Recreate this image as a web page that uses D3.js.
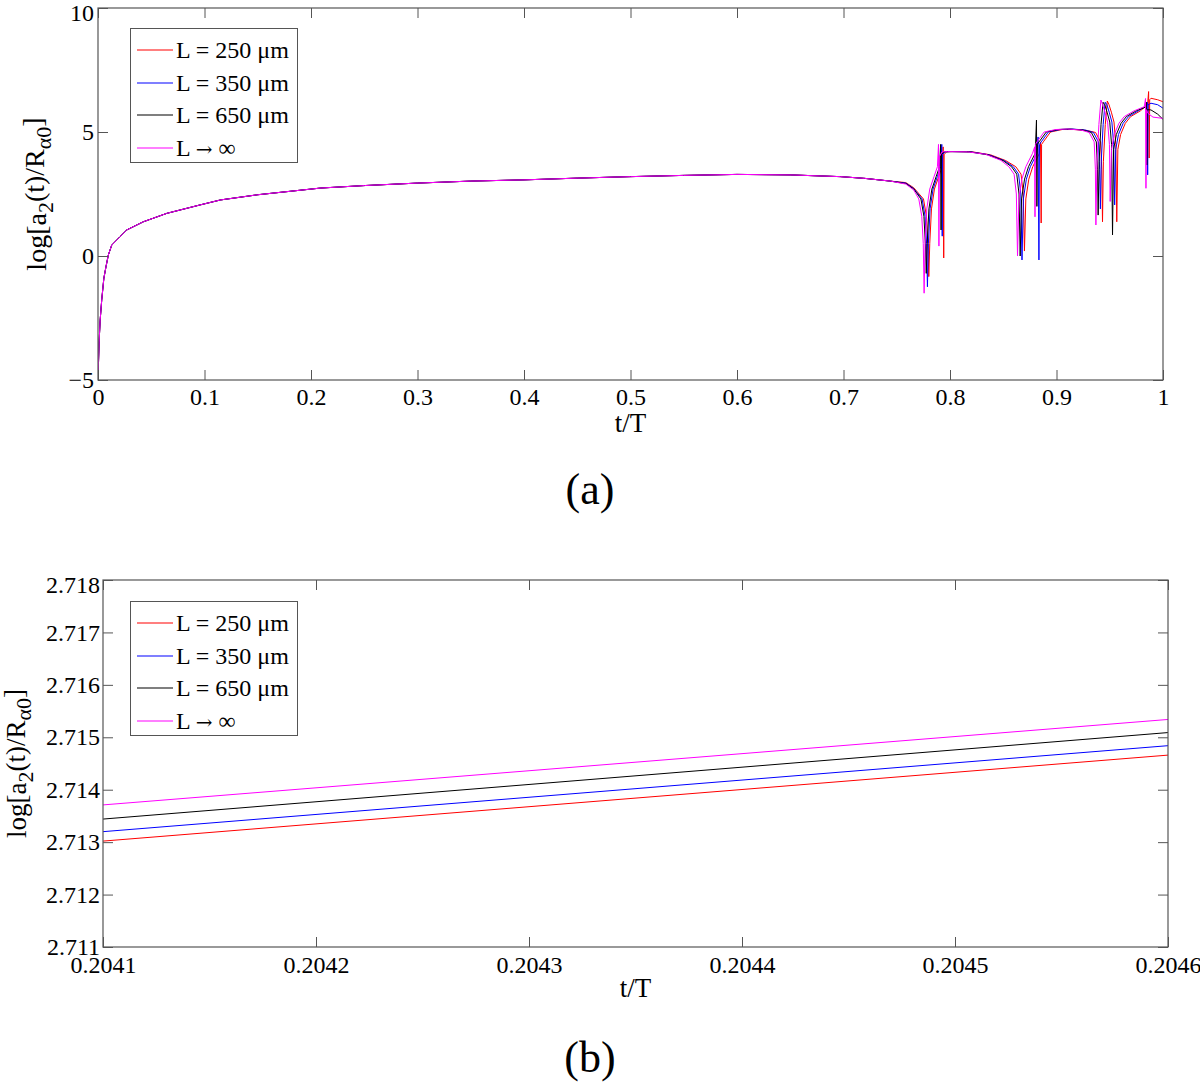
<!DOCTYPE html>
<html>
<head>
<meta charset="utf-8">
<script src="https://cdn.jsdelivr.net/npm/d3@7"></script>
<style>
  body { margin: 0; background: #fff; }
  svg { display: block; font-family: "Liberation Serif", "Times New Roman", serif; }
</style>
</head>
<body>
<svg id="chart"></svg>
<script>
const width = 1200;
const height = 1084;

const seriesNames = ["L = 250 \u03bcm", "L = 350 \u03bcm", "L = 650 \u03bcm", "L \u2192 \u221e"];
const seriesColors = ["#ff0000", "#0000ff", "#000000", "#ff00ff"];

// panel (a): all four curves coincide up to t ~ 0.75
const headPts = [
  [0, -5], [0.001, -3.5], [0.002, -2.6], [0.0035, -1.77], [0.0055, -0.9], [0.0075, -0.43],
  [0.0097, 0.04], [0.0129, 0.44], [0.0207, 0.78], [0.027, 1.05], [0.0426, 1.38], [0.0646, 1.72],
  [0.0959, 2.06], [0.115, 2.26], [0.15, 2.47], [0.209, 2.74], [0.25, 2.84], [0.3, 2.94],
  [0.35, 3.02], [0.4, 3.07], [0.45, 3.14], [0.5, 3.2], [0.55, 3.25], [0.6, 3.29],
  [0.65, 3.27], [0.697, 3.2], [0.72, 3.13], [0.744, 3.02]
];

const tailRed = [
  [0.7585, 2.96], [0.766, 2.75], [0.7751, 2.3], [0.7779, 1.6], [0.7793, 0.5], [0.7801, -0.83],
  [0.781, 0.5], [0.7826, 1.9], [0.7854, 2.7], [0.7894, 3.2], [0.7926, 3.6], [0.7936, 4.4],
  [0.7941, -0.08], [0.7945, 4.1], [0.797, 4.2], [0.8022, 4.21], [0.8209, 4.2], [0.8381, 4.08],
  [0.8522, 3.85], [0.8618, 3.6], [0.8667, 3.3], [0.8688, 2.5], [0.8699, 0.2], [0.8712, 2.3],
  [0.874, 3.1], [0.8777, 3.6], [0.884, 4.14], [0.885, 4.6], [0.8856, 1.33], [0.886, 4.5],
  [0.8876, 4.6], [0.8944, 5.0], [0.9054, 5.1], [0.9164, 5.1], [0.9289, 5.06], [0.9367, 4.98],
  [0.9414, 4.6], [0.9425, 3.5], [0.9432, 1.38], [0.944, 3.8], [0.9458, 5.3], [0.9477, 6.25],
  [0.9493, 6.1], [0.9515, 5.8], [0.954, 5.4], [0.9557, 4.5], [0.9566, 1.38], [0.9576, 4.3],
  [0.9602, 4.9], [0.9646, 5.35], [0.9696, 5.62], [0.9787, 5.85], [0.9855, 6.1], [0.9865, 6.63],
  [0.987, 3.95], [0.9875, 6.3], [0.9887, 6.36], [0.995, 6.3], [1.0, 6.22]
];

const tailBlue = [
  [0.7585, 2.94], [0.766, 2.72], [0.7738, 2.3], [0.7766, 1.6], [0.778, 0.5], [0.7788, -1.24],
  [0.7797, 0.5], [0.7813, 1.9], [0.7841, 2.7], [0.7881, 3.2], [0.7913, 3.6], [0.7923, 4.5],
  [0.7927, 0.8], [0.7931, 4.1], [0.7956, 4.2], [0.8008, 4.21], [0.8195, 4.2], [0.8367, 4.08],
  [0.8508, 3.85], [0.8595, 3.6], [0.8644, 3.3], [0.8665, 2.5], [0.8676, -0.16], [0.8689, 2.3],
  [0.8717, 3.1], [0.8754, 3.6], [0.8817, 4.14], [0.8827, 4.8], [0.8835, -0.16], [0.884, 4.5],
  [0.8856, 4.6], [0.8924, 5.0], [0.9034, 5.1], [0.9144, 5.12], [0.9269, 5.08], [0.9347, 4.98],
  [0.9394, 4.6], [0.9405, 3.5], [0.9412, 1.9], [0.942, 3.8], [0.9438, 5.3], [0.9457, 6.2],
  [0.9473, 6.1], [0.9495, 5.8], [0.952, 5.4], [0.9537, 4.5], [0.9546, 2.06], [0.9556, 4.3],
  [0.9582, 4.9], [0.9626, 5.35], [0.9676, 5.62], [0.9767, 5.85], [0.9845, 6.05], [0.9852, 6.2],
  [0.9856, 3.27], [0.986, 6.1], [0.9887, 6.16], [0.995, 6.1], [1.0, 5.96]
];

const tailBlack = [
  [0.7585, 2.92], [0.766, 2.7], [0.7727, 2.3], [0.7755, 1.6], [0.7769, 0.5], [0.7777, -0.7],
  [0.7786, 0.5], [0.7802, 1.9], [0.783, 2.7], [0.787, 3.2], [0.7902, 3.6], [0.7912, 4.5],
  [0.7916, 1.05], [0.792, 4.1], [0.7945, 4.2], [0.7997, 4.21], [0.8184, 4.2], [0.8356, 4.08],
  [0.8497, 3.85], [0.8578, 3.6], [0.8627, 3.3], [0.8648, 2.5], [0.8659, 0.0], [0.8672, 2.3],
  [0.87, 3.1], [0.8737, 3.6], [0.88, 4.14], [0.8812, 5.48], [0.8816, 2.0], [0.882, 4.5],
  [0.8836, 4.6], [0.8904, 5.0], [0.9014, 5.1], [0.9124, 5.12], [0.9249, 5.08], [0.9327, 4.98],
  [0.9374, 4.6], [0.9385, 3.5], [0.9391, 1.65], [0.94, 3.8], [0.9418, 5.3], [0.9437, 6.2],
  [0.9453, 6.1], [0.9475, 5.8], [0.95, 5.4], [0.9517, 4.5], [0.9526, 0.85], [0.9536, 4.3],
  [0.9562, 4.9], [0.9606, 5.35], [0.9656, 5.62], [0.9747, 5.85], [0.9834, 6.0], [0.9845, 6.2],
  [0.9848, 3.67], [0.9852, 5.9], [0.9887, 5.89], [0.995, 5.72], [1.0, 5.51]
];

const tailMagenta = [
  [0.7585, 2.9], [0.766, 2.66], [0.7707, 2.3], [0.7735, 1.6], [0.7749, 0.5], [0.7757, -1.5],
  [0.7766, 0.5], [0.7782, 1.9], [0.781, 2.7], [0.785, 3.2], [0.7882, 3.6], [0.7892, 4.5],
  [0.7896, 0.4], [0.79, 4.0], [0.7925, 4.2], [0.7977, 4.21], [0.8164, 4.2], [0.8336, 4.1],
  [0.8477, 3.86], [0.8553, 3.6], [0.8602, 3.3], [0.8623, 2.5], [0.8634, 0.0], [0.8647, 2.3],
  [0.8675, 3.1], [0.8712, 3.6], [0.8775, 4.14], [0.8795, 4.4], [0.8798, 1.58], [0.8802, 4.5],
  [0.8816, 4.6], [0.8884, 5.0], [0.8994, 5.1], [0.9104, 5.12], [0.9229, 5.08], [0.9307, 4.98],
  [0.9354, 4.6], [0.9365, 3.5], [0.937, 1.25], [0.938, 3.8], [0.9398, 5.3], [0.9417, 6.29],
  [0.9433, 6.1], [0.9455, 5.8], [0.948, 5.4], [0.9497, 4.5], [0.9504, 2.2], [0.9516, 4.3],
  [0.9542, 4.9], [0.9586, 5.35], [0.9636, 5.62], [0.9727, 5.85], [0.9824, 6.02], [0.9836, 6.35],
  [0.984, 2.73], [0.9845, 5.9], [0.9859, 5.75], [0.9906, 5.6], [1.0, 5.55]
];

const topXTicks = [0, 0.1, 0.2, 0.3, 0.4, 0.5, 0.6, 0.7, 0.8, 0.9, 1];
const topYTicks = [-5, 0, 5, 10];

// panel (b): zoom at t/T ~ 0.2041 .. 0.2046
const bottomT = [0.2041, 0.2046];
const bottomRed = [2.71302, 2.71466];
const bottomBlue = [2.71320, 2.71484];
const bottomBlack = [2.71344, 2.71509];
const bottomMagenta = [2.71371, 2.71534];

const bottomXTicks = [0.2041, 0.2042, 0.2043, 0.2044, 0.2045, 0.2046];
const bottomYTicks = [2.711, 2.712, 2.713, 2.714, 2.715, 2.716, 2.717, 2.718];

const svg = d3.select("#chart").attr("width", width).attr("height", height);
const axisColor = "#555";

function yLabel(g, x, y, size) {
  const sub = Math.round(size * 0.8);
  const t = g.append("text")
    .attr("transform", `translate(${x},${y}) rotate(-90)`)
    .attr("text-anchor", "middle")
    .attr("font-size", size)
    .attr("fill", "#000");
  t.append("tspan").text("log[a");
  t.append("tspan").attr("dy", "0.3em").attr("font-size", sub).text("2");
  t.append("tspan").attr("dy", "-0.3em").text("(t)/R");
  t.append("tspan").attr("dy", "0.3em").attr("font-size", sub).text("\u03b10");
  t.append("tspan").attr("dy", "-0.3em").text("]");
}

function legendText(sel, name) {
  // the arrow needs a font with a full-size glyph
  if (name.indexOf("\u2192") >= 0) {
    sel.append("tspan").text("L ");
    sel.append("tspan").attr("font-family", "DejaVu Serif, serif").attr("font-size", 20).text("\u2192");
    sel.append("tspan").text(" \u221e");
  } else {
    sel.text(name);
  }
}

function drawPanel(cfg) {
  const g = svg.append("g");
  const x = d3.scaleLinear().domain(cfg.xDomain).range([cfg.left, cfg.right]);
  const y = d3.scaleLinear().domain(cfg.yDomain).range([cfg.bottom, cfg.top]);

  const clipId = cfg.id + "-clip";
  g.append("clipPath").attr("id", clipId)
    .append("rect")
    .attr("x", cfg.left).attr("y", cfg.top)
    .attr("width", cfg.right - cfg.left).attr("height", cfg.bottom - cfg.top);

  const line = d3.line().x((d) => x(d[0])).y((d) => y(d[1]));

  g.append("g").attr("clip-path", `url(#${clipId})`)
    .selectAll("path")
    .data(cfg.series)
    .enter()
    .append("path")
    .attr("d", (d) => line(d.pts))
    .attr("fill", "none")
    .attr("stroke", (d) => d.color)
    .attr("stroke-width", 1)
    .attr("stroke-linejoin", "round");

  // axes, ticks inward on all four sides
  const axB = g.append("g").attr("transform", `translate(0,${cfg.bottom})`)
    .call(d3.axisBottom(x).tickValues(cfg.xTicks).tickFormat(cfg.xFormat).tickSizeInner(-10).tickSizeOuter(0).tickPadding(cfg.xPad));
  const axT = g.append("g").attr("transform", `translate(0,${cfg.top})`)
    .call(d3.axisTop(x).tickValues(cfg.xTicks).tickFormat("").tickSizeInner(-10).tickSizeOuter(0));
  const axL = g.append("g").attr("transform", `translate(${cfg.left},0)`)
    .call(d3.axisLeft(y).tickValues(cfg.yTicks).tickFormat(cfg.yFormat).tickSizeInner(-10).tickSizeOuter(0).tickPadding(cfg.yPad));
  const axR = g.append("g").attr("transform", `translate(${cfg.right},0)`)
    .call(d3.axisRight(y).tickValues(cfg.yTicks).tickFormat("").tickSizeInner(-10).tickSizeOuter(0));

  [axB, axT, axL, axR].forEach((a) => {
    a.select(".domain").remove();
    a.selectAll(".tick line").attr("stroke", axisColor).attr("stroke-width", 1);
    a.selectAll("text")
      .attr("font-family", "Liberation Serif, serif")
      .attr("font-size", 24)
      .attr("fill", "#000");
  });
  // keep the topmost y label inside the picture
  axL.selectAll(".tick text").filter((d) => d === cfg.yDomain[1]).attr("dy", "0.5em");

  g.append("rect")
    .attr("x", cfg.left).attr("y", cfg.top)
    .attr("width", cfg.right - cfg.left).attr("height", cfg.bottom - cfg.top)
    .attr("fill", "none").attr("stroke", axisColor).attr("stroke-width", 1.2);

  // legend
  const lg = g.append("g");
  lg.append("rect")
    .attr("x", cfg.legend.x + 0.5).attr("y", cfg.legend.y + 0.5)
    .attr("width", 167).attr("height", 134)
    .attr("fill", "#fff").attr("stroke", axisColor).attr("stroke-width", 1);
  cfg.series.forEach((s, i) => {
    const ry = Math.round(cfg.legend.y + 22 + i * 32.5);
    lg.append("line")
      .attr("x1", cfg.legend.x + 7).attr("x2", cfg.legend.x + 43)
      .attr("y1", ry).attr("y2", ry)
      .attr("stroke", s.color).attr("stroke-width", 1.2);
    lg.append("text")
      .attr("x", cfg.legend.x + 46).attr("y", ry)
      .attr("dy", "0.35em")
      .attr("font-size", 24)
      .attr("fill", "#000")
      .call(legendText, s.name);
  });

  g.append("text")
    .attr("x", (cfg.left + cfg.right) / 2).attr("y", cfg.xLabelY)
    .attr("text-anchor", "middle").attr("font-size", 27).attr("fill", "#000")
    .text("t/T");

  yLabel(g, cfg.yLabelX, (cfg.top + cfg.bottom) / 2, cfg.yLabelSize);

  g.append("text")
    .attr("x", 590).attr("y", cfg.captionY)
    .attr("text-anchor", "middle").attr("font-size", 44).attr("fill", "#000")
    .text(cfg.caption);
}

const topTails = [tailRed, tailBlue, tailBlack, tailMagenta];
drawPanel({
  id: "pa",
  left: 98, right: 1163, top: 8, bottom: 380,
  xDomain: [0, 1], yDomain: [-5, 10],
  xTicks: topXTicks, yTicks: topYTicks,
  xFormat: (d) => String(d), yFormat: (d) => (d < 0 ? "\u2212" + Math.abs(d) : String(d)),
  xPad: 8, yPad: 4,
  series: seriesNames.map((name, i) => ({ name, color: seriesColors[i], pts: headPts.concat(topTails[i]) })),
  legend: { x: 130, y: 28 },
  xLabelY: 432, yLabelX: 46, yLabelSize: 28,
  caption: "(a)", captionY: 504
});

const bottomVals = [bottomRed, bottomBlue, bottomBlack, bottomMagenta];
drawPanel({
  id: "pb",
  left: 103, right: 1168, top: 580, bottom: 947,
  xDomain: [0.2041, 0.2046], yDomain: [2.711, 2.718],
  xTicks: bottomXTicks, yTicks: bottomYTicks,
  xFormat: d3.format(".4f"), yFormat: d3.format(".3f"),
  xPad: 9, yPad: 3,
  series: seriesNames.map((name, i) => ({ name, color: seriesColors[i], pts: bottomT.map((t, j) => [t, bottomVals[i][j]]) })),
  legend: { x: 130, y: 601 },
  xLabelY: 997, yLabelX: 26, yLabelSize: 27,
  caption: "(b)", captionY: 1072
});
</script>
</body>
</html>
